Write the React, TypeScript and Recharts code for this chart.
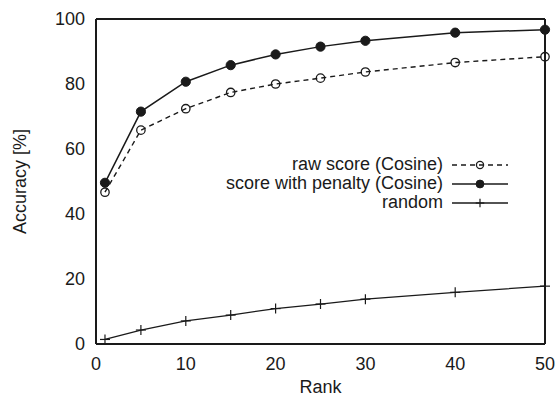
import { LineChart, Line, XAxis, YAxis, Legend } from "recharts";

const ranks = [1, 5, 10, 15, 20, 25, 30, 40, 50];
const rawScore = [46.7, 65.8, 72.4, 77.4, 80.0, 81.8, 83.7, 86.6, 88.4];
const penaltyScore = [49.6, 71.5, 80.7, 85.8, 89.1, 91.5, 93.3, 95.8, 96.7];
const randomScore = [1.4, 4.3, 7.1, 8.9, 10.9, 12.3, 13.8, 15.9, 17.8];

const xTicks = [0, 10, 20, 30, 40, 50];
const yTicks = [0, 20, 40, 60, 80, 100];

const seriesNames = [
  "raw score (Cosine)",
  "score with penalty (Cosine)",
  "random",
];

const data = ranks.map((rank, i) => ({
  rank,
  raw: rawScore[i],
  penalty: penaltyScore[i],
  random: randomScore[i],
}));

const INK = "#1a1a1a";
const FONT = "'Liberation Sans', Arial, sans-serif";

type Marker = "open" | "filled" | "plus";

// gnuplot-like point types; open circles are hollow so the line shows through
const drawMarker = (kind: Marker, cx: number, cy: number, key?: string, s = 1) => {
  if (kind === "open")
    return (
      <circle key={key} cx={cx} cy={cy} r={4.2 * s} fill="none" stroke={INK} strokeWidth={1.3} />
    );
  if (kind === "filled")
    return <circle key={key} cx={cx} cy={cy} r={4.6 * s} fill={INK} stroke={INK} strokeWidth={1} />;
  return (
    <g key={key}>
      <line x1={cx - 5 * s} y1={cy} x2={cx + 5 * s} y2={cy} stroke={INK} strokeWidth={1.2} />
      <line x1={cx} y1={cy - 5 * s} x2={cx} y2={cy + 5 * s} stroke={INK} strokeWidth={1.2} />
    </g>
  );
};

const makeDot = (kind: Marker) => (props: any) => {
  const { cx, cy, index } = props;
  if (cx == null || cy == null) return <g key={`d-${index}`} />;
  return drawMarker(kind, cx, cy, `${kind}-${index}`);
};

const legendRows: { name: string; dash?: string; marker: Marker }[] = [
  { name: seriesNames[0], dash: "5 4", marker: "open" },
  { name: seriesNames[1], marker: "filled" },
  { name: seriesNames[2], marker: "plus" },
];

const KeyBox = () => (
  <div style={{ fontFamily: FONT, fontSize: 18, color: INK }}>
    {legendRows.map((row) => (
      <div key={row.name} style={{ display: "flex", alignItems: "center", height: 19 }}>
        <span style={{ width: 240, textAlign: "right", whiteSpace: "nowrap", lineHeight: "19px" }}>
          {row.name}
        </span>
        <svg width={60} height={14} style={{ marginLeft: 9 }}>
          <line
            x1={0}
            y1={7}
            x2={56}
            y2={7}
            stroke={INK}
            strokeWidth={1.4}
            strokeDasharray={row.dash}
          />
          {drawMarker(row.marker, 28, 7, undefined, 0.85)}
        </svg>
      </div>
    ))}
  </div>
);

const tickStyle = { fontSize: 18, fill: INK, fontFamily: FONT };
const innerTick = { stroke: INK, strokeWidth: 1.3 };
const frame = { stroke: INK, strokeWidth: 2 };

export default function App() {
  return (
    <div style={{ position: "absolute", left: 0, top: 0, background: "#fff" }}>
      <LineChart
        width={558}
        height={398}
        data={data}
        margin={{ top: 19, right: 13, bottom: 0, left: 0 }}
      >
        <XAxis
          dataKey="rank"
          type="number"
          domain={[0, 50]}
          ticks={xTicks}
          height={54}
          tick={tickStyle}
          tickLine={false}
          tickSize={0}
          tickMargin={13}
          axisLine={frame}
          label={{
            value: "Rank",
            position: "insideBottom",
            offset: 5,
            style: { fontSize: 18, fill: INK, fontFamily: FONT },
          }}
        />
        <XAxis
          xAxisId="bottomTicks"
          dataKey="rank"
          type="number"
          domain={[0, 50]}
          ticks={xTicks}
          mirror
          height={1}
          tick={false}
          tickSize={7}
          tickLine={innerTick}
          axisLine={false}
        />
        <XAxis
          xAxisId="top"
          orientation="top"
          dataKey="rank"
          type="number"
          domain={[0, 50]}
          ticks={xTicks}
          mirror
          height={1}
          tick={false}
          tickSize={7}
          tickLine={innerTick}
          axisLine={frame}
        />
        <YAxis
          type="number"
          domain={[0, 100]}
          ticks={yTicks}
          width={96}
          tick={tickStyle}
          tickLine={false}
          tickSize={0}
          tickMargin={11}
          axisLine={frame}
          label={{
            value: "Accuracy [%]",
            angle: -90,
            position: "center",
            dx: -28,
            style: { fontSize: 18, fill: INK, fontFamily: FONT },
          }}
        />
        <YAxis
          yAxisId="leftTicks"
          type="number"
          domain={[0, 100]}
          ticks={yTicks}
          mirror
          width={1}
          tick={false}
          tickSize={7}
          tickLine={innerTick}
          axisLine={false}
        />
        <YAxis
          yAxisId="right"
          orientation="right"
          type="number"
          domain={[0, 100]}
          ticks={yTicks}
          mirror
          width={1}
          tick={false}
          tickSize={7}
          tickLine={innerTick}
          axisLine={frame}
        />
        <Legend
          layout="vertical"
          align="center"
          verticalAlign="middle"
          content={() => <KeyBox />}
          wrapperStyle={{ top: 155, left: 203, width: 320 }}
        />
        {/* invisible series so the frame/tick axes get a domain */}
        <Line
          xAxisId="top"
          yAxisId="right"
          dataKey="raw"
          stroke="none"
          dot={false}
          activeDot={false}
          legendType="none"
          isAnimationActive={false}
        />
        <Line
          xAxisId="bottomTicks"
          yAxisId="leftTicks"
          dataKey="raw"
          stroke="none"
          dot={false}
          activeDot={false}
          legendType="none"
          isAnimationActive={false}
        />
        <Line
          dataKey="raw"
          name={seriesNames[0]}
          stroke={INK}
          strokeWidth={1.4}
          strokeDasharray="5 4"
          dot={makeDot("open")}
          isAnimationActive={false}
        />
        <Line
          dataKey="penalty"
          name={seriesNames[1]}
          stroke={INK}
          strokeWidth={1.5}
          dot={makeDot("filled")}
          isAnimationActive={false}
        />
        <Line
          dataKey="random"
          name={seriesNames[2]}
          stroke={INK}
          strokeWidth={1.3}
          dot={makeDot("plus")}
          isAnimationActive={false}
        />
      </LineChart>
    </div>
  );
}
